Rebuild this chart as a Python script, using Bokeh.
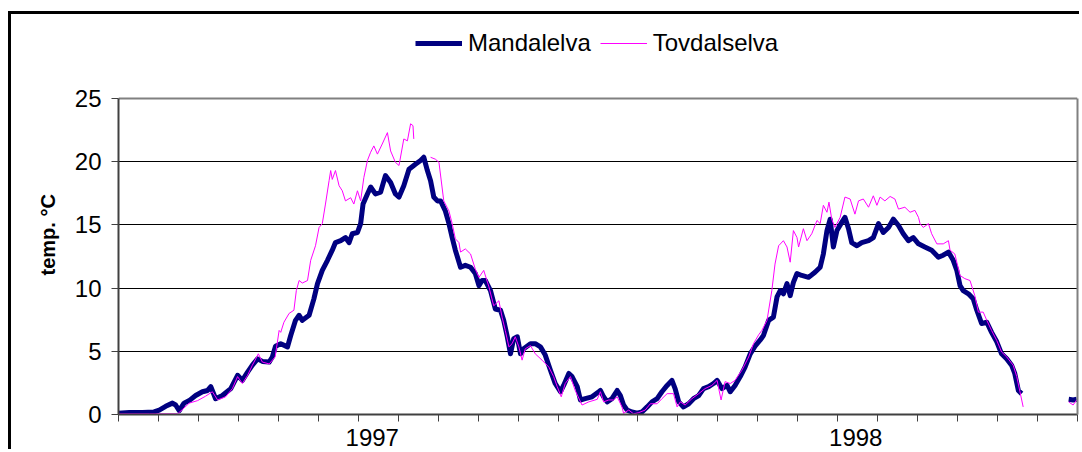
from bokeh.plotting import figure
from bokeh.models import FixedTicker, Legend, LegendItem, Title, LinearAxis, Grid
from bokeh.embed import file_html
from bokeh.resources import INLINE

nan = float("nan")

# time in months from start of 1997 (0 = Jan 1997, 24 = end of 1998)
mandal_t = [0.00, 0.27, 0.60, 0.89, 1.02, 1.18, 1.35, 1.43, 1.52, 1.64, 1.77, 1.93, 2.10, 2.23, 2.31,
            2.43, 2.60, 2.81, 2.98, 3.10, 3.23, 3.35, 3.48, 3.60, 3.77, 3.85, 3.93, 4.06, 4.23, 4.31,
            4.43, 4.52, 4.60, 4.77, 4.89, 4.98, 5.10, 5.23, 5.35, 5.43, 5.56, 5.68, 5.77, 5.85, 5.98,
            6.06, 6.12, 6.23, 6.31, 6.43, 6.56, 6.68, 6.81, 6.93, 7.02, 7.14, 7.27, 7.43, 7.56, 7.64,
            7.73, 7.81, 7.89, 7.98, 8.06, 8.18, 8.27, 8.35, 8.43, 8.56, 8.68, 8.81, 8.93, 9.02, 9.10,
            9.18, 9.31, 9.43, 9.56, 9.64, 9.73, 9.81, 9.89, 9.98, 10.06, 10.14, 10.31, 10.43, 10.56,
            10.68, 10.81, 10.93, 11.06, 11.14, 11.27, 11.35, 11.48, 11.56, 11.68, 11.85, 12.02, 12.06,
            12.14, 12.23, 12.35, 12.48, 12.56, 12.64, 12.73, 12.85, 12.98, 13.10, 13.23, 13.35, 13.48,
            13.60, 13.73, 13.85, 13.93, 14.02, 14.14, 14.27, 14.39, 14.52, 14.64, 14.77, 14.89, 14.98,
            15.10, 15.23, 15.31, 15.43, 15.56, 15.68, 15.81, 15.93, 16.06, 16.14, 16.27, 16.39, 16.48,
            16.56, 16.64, 16.73, 16.81, 16.89, 16.98, 17.10, 17.27, 17.43, 17.56, 17.64, 17.73, 17.81,
            17.89, 17.98, 18.10, 18.18, 18.27, 18.35, 18.48, 18.60, 18.77, 18.89, 19.02, 19.14, 19.27,
            19.39, 19.52, 19.64, 19.77, 19.89, 20.02, 20.18, 20.35, 20.52, 20.64, 20.77, 20.89, 20.98,
            21.06, 21.14, 21.27, 21.39, 21.48, 21.60, 21.73, 21.85, 21.98, 22.10, 22.23, 22.35, 22.43,
            22.52, 22.60, 23.20, 23.78, 23.89, 23.98]
mandal_temp = [0.10, 0.15, 0.15, 0.20, 0.35, 0.65, 0.90, 0.75, 0.30, 0.90, 1.10, 1.50, 1.80, 1.90, 2.20,
               1.25, 1.50, 2.05, 3.10, 2.70, 3.35, 3.90, 4.40, 4.20, 4.15, 4.55, 5.40, 5.60, 5.35, 6.25,
               7.45, 7.85, 7.45, 7.85, 9.15, 10.35, 11.40, 12.20, 13.00, 13.60, 13.75, 14.00, 13.60, 14.30, 14.40,
               15.10, 16.65, 17.45, 18.00, 17.45, 17.60, 18.90, 18.35, 17.45, 17.20, 18.10, 19.40, 19.80, 20.10, 20.35,
               19.30, 18.50, 17.20, 16.90, 16.90, 16.10, 15.10, 14.00, 13.00, 11.65, 11.80, 11.65, 11.15, 10.20, 10.60,
               10.60, 9.80, 8.35, 8.25, 7.45, 6.15, 4.80, 6.00, 6.15, 4.80, 5.20, 5.60, 5.60, 5.35,
               4.70, 3.50, 2.45, 1.80, 2.30, 3.25, 3.00, 2.20, 1.15, 1.25, 1.40, 1.80, 1.90,
               1.40, 1.00, 1.25, 1.90, 1.50, 0.75, 0.35, 0.20, 0.10, 0.20, 0.60, 1.00, 1.25,
               1.80, 2.30, 2.70, 2.05, 1.00, 0.60, 0.85, 1.25, 1.50, 2.05, 2.20, 2.45, 2.70,
               2.05, 2.30, 1.80, 2.30, 3.00, 3.75, 4.80, 5.40, 5.90, 6.25, 7.45, 7.70, 9.30,
               9.80, 9.55, 10.35, 9.40, 10.45, 11.15, 11.00, 10.85, 11.25, 11.65, 12.70, 14.55, 15.45,
               13.25, 14.55, 15.20, 15.60, 14.70, 13.60, 13.35, 13.60, 13.75, 14.00, 15.10, 14.40, 14.80,
               15.45, 14.95, 14.30, 13.75, 14.00, 13.50, 13.25, 13.00, 12.45, 12.60, 12.85, 12.20, 11.40,
               10.20, 9.80, 9.55, 9.15, 8.25, 7.20, 7.30, 6.50, 5.75, 4.80, 4.40, 3.90, 3.25,
               1.90, 1.65, nan, 1.20, 1.15, 1.20]

tovdal_t = [0.00, 0.77, 1.48, 1.60, 1.77, 1.98, 2.18, 2.35, 2.48, 2.68, 2.85, 2.98, 3.10, 3.23, 3.35,
            3.50, 3.60, 3.77, 3.92, 4.02, 4.06, 4.14, 4.27, 4.39, 4.45, 4.52, 4.60, 4.73, 4.81, 4.93,
            5.02, 5.10, 5.18, 5.27, 5.31, 5.35, 5.43, 5.52, 5.60, 5.68, 5.81, 5.89, 5.98, 6.06, 6.14,
            6.23, 6.31, 6.39, 6.48, 6.60, 6.73, 6.81, 6.93, 7.02, 7.14, 7.23, 7.31, 7.37, 7.39, 7.60,
            7.81, 7.93, 8.02, 8.14, 8.27, 8.35, 8.43, 8.52, 8.56, 8.68, 8.81, 8.93, 9.02, 9.14, 9.27,
            9.39, 9.52, 9.60, 9.68, 9.77, 9.85, 9.93, 10.02, 10.10, 10.18, 10.31, 10.43, 10.60, 10.77,
            10.89, 10.98, 11.08, 11.18, 11.31, 11.43, 11.60, 11.77, 11.98, 12.06, 12.14, 12.27, 12.39,
            12.48, 12.60, 12.64, 12.77, 12.89, 13.02, 13.18, 13.31, 13.48, 13.60, 13.73, 13.89, 13.98,
            14.06, 14.18, 14.35, 14.52, 14.68, 14.85, 14.98, 15.08, 15.18, 15.31, 15.43, 15.60, 15.77,
            15.89, 16.02, 16.10, 16.23, 16.35, 16.43, 16.52, 16.64, 16.73, 16.81, 16.89, 16.98, 17.02,
            17.14, 17.23, 17.35, 17.48, 17.56, 17.64, 17.73, 17.78, 17.85, 17.93, 18.06, 18.18, 18.31,
            18.43, 18.52, 18.64, 18.77, 18.89, 18.98, 19.06, 19.18, 19.31, 19.43, 19.52, 19.68, 19.81,
            19.93, 20.02, 20.06, 20.14, 20.27, 20.35, 20.48, 20.64, 20.77, 20.81, 20.93, 21.06, 21.18,
            21.31, 21.43, 21.52, 21.64, 21.73, 21.85, 21.98, 22.10, 22.23, 22.39, 22.48, 22.56, 22.64,
            23.20, 23.78, 23.89, 23.98]
tovdal_temp = [0.05, 0.05, 0.05, 0.40, 0.90, 1.10, 1.45, 1.80, 1.15, 1.40, 2.05, 3.00, 2.45, 3.10, 3.90,
               4.80, 4.15, 4.00, 4.55, 6.65, 6.50, 7.30, 8.00, 8.25, 9.80, 10.60, 10.40, 10.60, 12.20, 13.35,
               14.80, 15.10, 16.65, 18.50, 19.30, 18.60, 19.30, 18.10, 17.70, 16.90, 17.15, 16.65, 17.70, 16.90, 18.75,
               20.10, 20.75, 21.25, 20.60, 21.40, 22.30, 20.85, 19.95, 19.70, 21.80, 21.65, 23.00, 22.85, 21.80, nan,
               20.35, 20.20, 19.95, 16.90, 16.10, 15.10, 13.90, 13.60, 12.85, 13.10, 12.70, 11.50, 10.85, 11.40, 10.10,
               8.60, 9.00, 7.70, 6.65, 5.35, 5.60, 6.15, 5.35, 4.30, 5.20, 5.45, 4.80, 4.30, 3.75,
               3.00, 2.20, 1.40, 2.45, 3.00, 1.90, 0.75, 1.00, 1.20, 1.80, 1.00, 1.15, 1.15,
               1.40, 0.60, 0.10, 0.35, 0.05, 0.15, 0.35, 0.85, 0.85, 1.25, 1.65, 1.65, 0.60,
               1.00, 0.75, 1.25, 1.65, 2.05, 2.30, 2.70, 1.15, 2.60, 2.45, 2.70, 3.50, 4.55,
               5.60, 6.30, 6.65, 7.45, 9.80, 11.90, 13.35, 13.75, 13.25, 12.05, 14.55, 14.00, 13.25,
               14.70, 13.75, 14.30, 15.35, 15.10, 16.55, 16.00, 16.80, 15.45, 14.80, 15.60, 17.20, 17.05,
               15.85, 16.90, 17.05, 16.40, 17.30, 16.55, 17.20, 16.90, 17.25, 17.05, 16.25, 16.40, 16.00,
               16.15, 15.60, 15.10, 14.80, 15.10, 14.30, 13.50, 13.50, 13.75, 13.00, 12.70, 11.00, 10.75,
               10.60, 9.40, 8.10, 8.10, 7.45, 6.65, 5.85, 4.95, 4.55, 3.90, 3.00, 1.80, 0.60,
               nan, 1.00, 0.75, 1.15]

month_ticks = list(range(0, 25))
year_label_pos = [6.35, 18.45]
year_labels = ["1997", "1998"]
temp_ticks = [0, 5, 10, 15, 20, 25]
grid_ticks = [5, 10, 15, 20]
temp_max = 25

FONT = "Liberation Sans"

# layout (pixels)
W, H = 1071, 438
B_LEFT, B_RIGHT, B_TOP, B_BOTTOM = 107, 5, 10, 38
PLOT_AREA_H = 316          # height of the 0..25 band
frame_h = H - B_TOP - B_BOTTOM
y_top = temp_max * frame_h / PLOT_AREA_H   # leaves room for the legend above the 25 line

p = figure(width=W, height=H, x_range=(0, 24), y_range=(0, y_top), title=None,
           output_backend="svg", toolbar_location=None,
           min_border_left=B_LEFT, min_border_top=B_TOP,
           min_border_bottom=B_BOTTOM, min_border_right=B_RIGHT)
p.styles = {"margin-left": "8px", "margin-top": "11px",
            "border-left": "3px solid black", "border-top": "3px solid black"}
p.outline_line_color = None
p.background_fill_color = "white"
p.border_fill_color = "white"

r_m = p.line(mandal_t, mandal_temp, line_color="#000080", line_width=5, line_join="round")
r_t = p.line(tovdal_t, tovdal_temp, line_color="#FF00FF", line_width=1, line_join="round")

# y axis
p.yaxis.ticker = FixedTicker(ticks=temp_ticks)
p.yaxis.bounds = (0, temp_max)
p.yaxis.major_tick_out = 7
p.yaxis.major_tick_in = 0
p.yaxis.minor_tick_line_color = None
p.yaxis.axis_line_color = "#404040"
p.yaxis.axis_line_width = 2
p.yaxis.major_tick_line_color = "#404040"
p.yaxis.major_label_text_font = FONT
p.yaxis.major_label_text_font_size = "24px"
p.yaxis.major_label_text_color = "black"
p.yaxis.major_label_standoff = 10
p.ygrid.ticker = FixedTicker(ticks=grid_ticks)
p.ygrid.grid_line_color = "black"
p.ygrid.grid_line_width = 1

# plot-area border: top (grey line at 25) and right side
top_border = Grid(dimension=1, ticker=FixedTicker(ticks=[temp_max]),
                  grid_line_color="#808080", grid_line_width=2)
p.add_layout(top_border)
right_axis = LinearAxis(ticker=FixedTicker(ticks=[]), bounds=(0, temp_max),
                        axis_line_color="#808080", axis_line_width=2,
                        major_tick_line_color=None, minor_tick_line_color=None,
                        major_label_standoff=0, major_tick_out=0, major_tick_in=0)
p.add_layout(right_axis, "right")

# x axis
p.xaxis.ticker = FixedTicker(ticks=year_label_pos, minor_ticks=month_ticks)
p.xaxis.major_label_overrides = dict(zip(year_label_pos, year_labels))
p.xaxis.major_tick_out = 0
p.xaxis.major_tick_in = 0
p.xaxis.minor_tick_out = 7
p.xaxis.minor_tick_in = 0
p.xaxis.minor_tick_line_color = "#404040"
p.xaxis.minor_tick_line_width = 1
p.xaxis.axis_line_color = "#404040"
p.xaxis.axis_line_width = 2
p.xaxis.major_label_text_font = FONT
p.xaxis.major_label_text_font_size = "24px"
p.xaxis.major_label_text_color = "black"
p.xaxis.major_label_standoff = 7
p.xgrid.visible = False

ytitle = Title(text="temp. °C", align="left", offset=139, standoff=26,
               text_font=FONT, text_font_size="20px", text_font_style="bold", text_color="black")
p.add_layout(ytitle, "left")

legend = Legend(items=[LegendItem(label="Mandalelva", renderers=[r_m]),
                       LegendItem(label="Tovdalselva", renderers=[r_t])],
                location=(297, 357), orientation="horizontal",
                label_text_font=FONT, label_text_font_size="24px", label_text_color="black",
                glyph_width=47, glyph_height=24, label_height=24, label_standoff=6, spacing=9,
                padding=0, margin=0, border_line_color=None, background_fill_alpha=0)
p.add_layout(legend)

open("out.html", "w").write(file_html(p, INLINE))
